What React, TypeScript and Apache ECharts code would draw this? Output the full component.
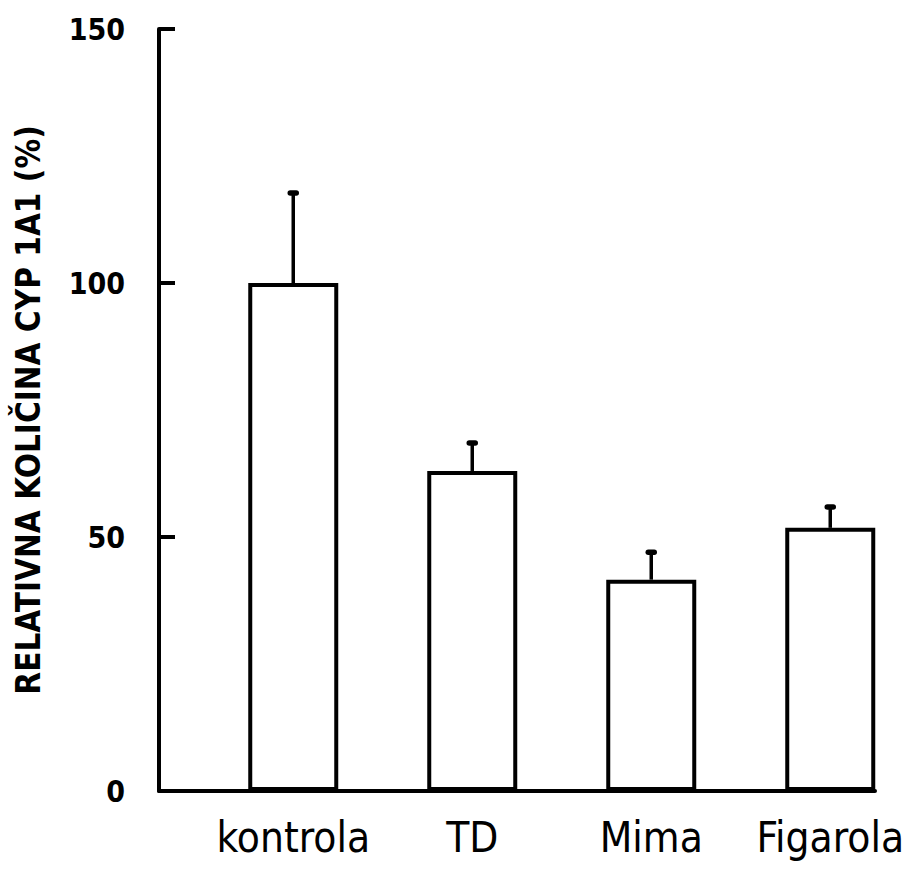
import React, { useEffect, useRef } from "react";
import * as echarts from "echarts";

const categories = ["kontrola", "TD", "Mima", "Figarola"];
const means = [100, 63.0, 41.6, 51.8];
const errors = [17.7, 5.5, 5.4, 4.1];
const yTicks = [0, 50, 100, 150];

const FONT = "'Liberation Sans Narrow', 'DejaVu Sans Condensed', 'Liberation Sans', Arial, sans-serif";

export default function App() {
  const ref = useRef<HTMLDivElement>(null);
  useEffect(() => {
    if (!ref.current) return;
    const chart = echarts.init(ref.current, undefined, { renderer: "svg" });
    const barData = means.map((v, i) => [i + 1, v]);
    const errData = means.map((v, i) => [i + 1, v, v + errors[i]]);
    chart.setOption({
      animation: false,
      backgroundColor: "#ffffff",
      grid: { left: 159, right: 44, top: 29, bottom: 85 },
      xAxis: {
        type: "value",
        min: 0.25,
        max: 4.25,
        splitLine: { show: false },
        axisTick: { show: false },
        axisLine: { show: true, onZero: false, lineStyle: { color: "#000", width: 4 } },
        axisLabel: {
          customValues: [1, 2, 3, 4],
          formatter: (v: number) => categories[Math.round(v) - 1] ?? "",
          color: "#000",
          fontFamily: FONT,
          fontSize: 42,
          margin: 25,
        },
      },
      yAxis: {
        type: "value",
        min: 0,
        max: 150,
        interval: 50,
        splitLine: { show: false },
        axisLine: { show: true, lineStyle: { color: "#000", width: 4 } },
        axisTick: { show: true, inside: true, length: 16, lineStyle: { color: "#000", width: 4 } },
        axisLabel: {
          color: "#000",
          fontFamily: FONT,
          fontWeight: "bold",
          fontSize: 30,
          margin: 34,
          formatter: (v: number) => (yTicks.includes(v) ? String(v) : ""),
        },
        name: "RELATIVNA KOLIČINA CYP 1A1 (%)",
        nameLocation: "middle",
        nameGap: 114,
        nameTextStyle: {
          color: "#000",
          fontFamily: FONT,
          fontWeight: "bold",
          fontSize: 33,
        },
      },
      series: [
        {
          type: "bar",
          data: barData,
          barWidth: 90,
          itemStyle: { color: "#ffffff", borderColor: "#000", borderWidth: 4 },
          z: 2,
        },
        {
          type: "custom",
          data: errData,
          z: 3,
          renderItem: (params: any, api: any) => {
            const x = api.value(0);
            const base = api.coord([x, api.value(1)]);
            const top = api.coord([x, api.value(2)]);
            return {
              type: "group",
              children: [
                {
                  type: "line",
                  shape: { x1: base[0], y1: base[1], x2: top[0], y2: top[1] },
                  style: { stroke: "#000", lineWidth: 3.5 },
                },
                {
                  type: "line",
                  shape: { x1: top[0] - 3, y1: top[1], x2: top[0] + 3, y2: top[1] },
                  style: { stroke: "#000", lineWidth: 5.5, lineCap: "round" },
                },
              ],
            };
          },
        },
      ],
    });
    return () => chart.dispose();
  }, []);
  return (
    <div
      ref={ref}
      style={{ position: "absolute", left: 0, top: 0, width: 919, height: 876 }}
    />
  );
}
